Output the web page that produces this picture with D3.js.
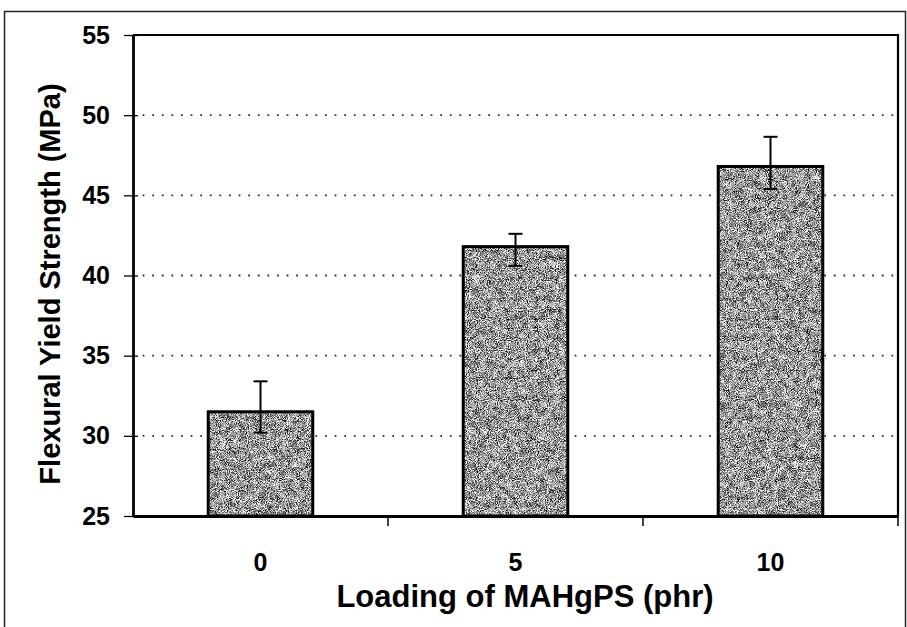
<!DOCTYPE html>
<html>
<head>
<meta charset="utf-8">
<script src="https://cdn.jsdelivr.net/npm/d3@7"></script>
<style>
  body { margin: 0; background: #fff; }
  svg { display: block; }
  text { font-family: "Liberation Sans", Arial, sans-serif; font-weight: bold; fill: #000; }
</style>
</head>
<body>
<div id="chart"></div>
<script>
// values
const categories = ["0", "5", "10"];
const strength = [31.5, 41.8, 46.8];
const errUp = [1.9, 0.8, 1.85];
const errDown = [1.3, 1.2, 1.4];
const yTicks = [25, 30, 35, 40, 45, 50, 55];

const W = 907, H = 627;
const margin = { top: 35, right: 9, bottom: 111, left: 133 };
const width = W - margin.left - margin.right;
const height = H - margin.top - margin.bottom;

const svg = d3.select("#chart").append("svg")
    .attr("width", W)
    .attr("height", H);

// speckled scan-like fill for the bars
const defs = svg.append("defs");
const grain = defs.append("filter").attr("id", "grain")
    .attr("x", 0).attr("y", 0).attr("width", 1).attr("height", 1)
    .attr("color-interpolation-filters", "sRGB");
grain.append("feTurbulence")
    .attr("type", "fractalNoise").attr("baseFrequency", 1.1)
    .attr("numOctaves", 1).attr("seed", 2).attr("result", "fine");
grain.append("feColorMatrix")
    .attr("in", "fine").attr("type", "matrix")
    .attr("values", "1 0 0 0 0  1 0 0 0 0  1 0 0 0 0  0 0 0 0 1")
    .attr("result", "fineG");
grain.append("feTurbulence")
    .attr("type", "fractalNoise").attr("baseFrequency", 0.15)
    .attr("numOctaves", 2).attr("seed", 7).attr("result", "coarse");
grain.append("feColorMatrix")
    .attr("in", "coarse").attr("type", "matrix")
    .attr("values", "1 0 0 0 0  1 0 0 0 0  1 0 0 0 0  0 0 0 0 1")
    .attr("result", "coarseG");
grain.append("feComposite")
    .attr("in", "fineG").attr("in2", "coarseG")
    .attr("operator", "arithmetic")
    .attr("k1", 0).attr("k2", 0.78).attr("k3", 0.22).attr("k4", 0)
    .attr("result", "mix");
const ct = grain.append("feComponentTransfer").attr("in", "mix");
["feFuncR", "feFuncG", "feFuncB"].forEach(f =>
    ct.append(f).attr("type", "linear").attr("slope", 3.2).attr("intercept", -1.0));

// outer frame
svg.append("rect")
    .attr("x", 4.5).attr("y", 11.5)
    .attr("width", 901).attr("height", 640)
    .attr("fill", "none")
    .attr("stroke", "#222")
    .attr("stroke-width", 1.5);

const g = svg.append("g")
    .attr("transform", `translate(${margin.left},${margin.top})`);

const x = d3.scaleBand()
    .domain(categories)
    .range([0, width]);

const y = d3.scaleLinear()
    .domain([25, 55])
    .range([height, 0]);

// dotted gridlines
g.append("g")
    .selectAll("line")
    .data(yTicks.filter(d => d > 25 && d < 55))
    .join("line")
    .attr("x1", 0).attr("x2", width)
    .attr("y1", d => y(d)).attr("y2", d => y(d))
    .attr("stroke", "#333")
    .attr("stroke-width", 1.8)
    .attr("stroke-dasharray", "1.8,7.8");

// bars
const barW = x.bandwidth() * 0.41;
const bars = g.append("g");
bars.selectAll("rect.fill")
    .data(strength)
    .join("rect")
    .attr("class", "fill")
    .attr("x", (d, i) => x(categories[i]) + x.bandwidth() / 2 - barW / 2)
    .attr("y", d => y(d))
    .attr("width", barW)
    .attr("height", d => height - y(d))
    .attr("fill", "#999")
    .attr("filter", "url(#grain)");
bars.selectAll("rect.edge")
    .data(strength)
    .join("rect")
    .attr("class", "edge")
    .attr("x", (d, i) => x(categories[i]) + x.bandwidth() / 2 - barW / 2)
    .attr("y", d => y(d))
    .attr("width", barW)
    .attr("height", d => height - y(d))
    .attr("fill", "none")
    .attr("stroke", "#000")
    .attr("stroke-width", 3);

// error bars
const err = g.append("g").attr("stroke", "#000").attr("stroke-width", 2);
const cx = i => x(categories[i]) + x.bandwidth() / 2;
strength.forEach((v, i) => {
    const top = y(v + errUp[i]), bot = y(v - errDown[i]);
    err.append("line").attr("x1", cx(i)).attr("x2", cx(i)).attr("y1", top).attr("y2", bot);
    err.append("line").attr("x1", cx(i) - 7).attr("x2", cx(i) + 7).attr("y1", top).attr("y2", top);
    err.append("line").attr("x1", cx(i) - 7).attr("x2", cx(i) + 7).attr("y1", bot).attr("y2", bot);
});

// plot border: top and right
g.append("path")
    .attr("d", `M0,0H${width}V${height}`)
    .attr("fill", "none")
    .attr("stroke", "#000")
    .attr("stroke-width", 2.2);

// y axis
const yAxis = g.append("g")
    .call(d3.axisLeft(y).tickValues(yTicks).tickSize(9).tickPadding(14).tickSizeOuter(0));
yAxis.select(".domain").attr("stroke-width", 2.8);
yAxis.selectAll(".tick line").attr("x2", -9).attr("x1", 5).attr("stroke-width", 1.3);
yAxis.selectAll("text").style("font-size", "25px");

// x axis
const xAxis = g.append("g")
    .attr("transform", `translate(0,${height})`)
    .call(d3.axisBottom(x).tickSize(0).tickPadding(37).tickSizeOuter(0));
xAxis.select(".domain").attr("stroke-width", 2.8);
xAxis.selectAll("text").style("font-size", "25px");
// separator ticks between categories
xAxis.selectAll(".sep")
    .data(categories.slice(1).concat(["end"]))
    .join("line")
    .attr("class", "sep")
    .attr("x1", (d, i) => (i + 1) * x.step())
    .attr("x2", (d, i) => (i + 1) * x.step())
    .attr("y1", 0).attr("y2", 10)
    .attr("stroke", "#000")
    .attr("stroke-width", 1.5);

// axis titles
svg.append("text")
    .attr("x", 525)
    .attr("y", 607)
    .attr("text-anchor", "middle")
    .style("font-size", "31px")
    .text("Loading of MAHgPS (phr)");

svg.append("text")
    .attr("transform", "translate(60,284) rotate(-90)")
    .attr("text-anchor", "middle")
    .style("font-size", "29px")
    .text("Flexural Yield Strength (MPa)");
</script>
</body>
</html>
